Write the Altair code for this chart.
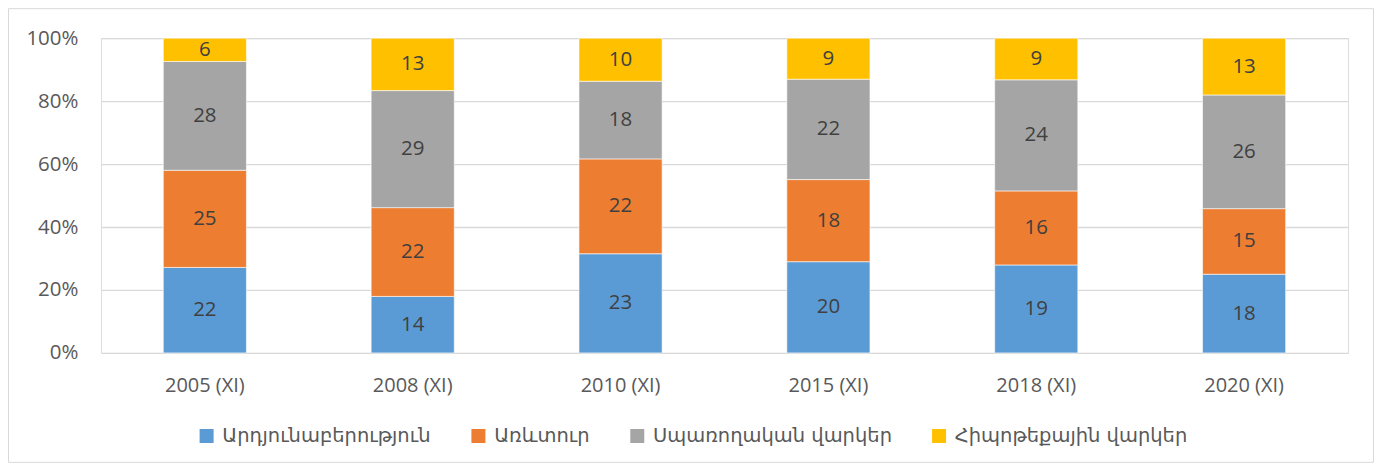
import altair as alt
import pandas as pd

years = ["2005 (XI)", "2008 (XI)", "2010 (XI)", "2015 (XI)", "2018 (XI)", "2020 (XI)"]
series = ["Արդյունաբերություն", "Առևտուր", "Սպառողական վարկեր", "Հիպոթեքային վարկեր"]
s_industry = [22, 14, 23, 20, 19, 18]
s_trade = [25, 22, 22, 18, 16, 15]
s_consumer = [28, 29, 18, 22, 24, 26]
s_mortgage = [6, 13, 10, 9, 9, 13]
colors = ["#5B9BD5", "#ED7D31", "#A5A5A5", "#FFC000"]

rows = []
for vals, name, idx in zip([s_industry, s_trade, s_consumer, s_mortgage], series, range(4)):
    for y, v in zip(years, vals):
        rows.append({"year": y, "series": name, "value": v, "idx": idx})
df = pd.DataFrame(rows)

W, H = 1248, 315
PL, PT, PR, PB = 93, 30, 26, 110

base = alt.Chart(df).transform_stack(
    stack="value", groupby=["year"], as_=["y0", "y1"],
    sort=[alt.SortField("idx", order="ascending")], offset="normalize"
).transform_calculate(ym="(datum.y0 + datum.y1) / 2")

xenc = alt.X("year:N", sort=years, title=None,
             scale=alt.Scale(paddingInner=0.6, paddingOuter=0.3),
             axis=alt.Axis(labelAngle=0, ticks=False, domain=False, labelPadding=23,
                           labelFontSize=20, labelColor="#595959", labelFont="Open Sans"))

bars = base.mark_bar(stroke="white", strokeWidth=0.6).encode(
    x=xenc,
    y=alt.Y("y0:Q", title=None, scale=alt.Scale(domain=[0, 1]),
            axis=alt.Axis(format=".0%", values=[0, 0.2, 0.4, 0.6, 0.8, 1.0], ticks=False,
                          domain=False, labelPadding=23, labelFontSize=20.5,
                          labelColor="#595959", labelFont="Open Sans",
                          gridColor="#D9D9D9", gridWidth=1.3)),
    y2="y1:Q",
    color=alt.Color("series:N", sort=series,
                    scale=alt.Scale(domain=series, range=colors),
                    legend=alt.Legend(title=None, orient="none", direction="horizontal",
                                      legendX=96, legendY=388,
                                      symbolType="square", symbolSize=196, symbolStrokeWidth=0,
                                      labelFontSize=19.5, labelColor="#595959",
                                      labelFont="DejaVu Sans", labelLimit=400,
                                      labelOffset=6, columnPadding=37, symbolOffset=0)),
)

text = base.mark_text(fontSize=20.5, color="#404040", font="Open Sans", baseline="middle").encode(
    x=alt.X("year:N", sort=years),
    y=alt.Y("ym:Q"),
    text="value:Q",
)

border = alt.Chart(pd.DataFrame({"a": [0]})).mark_rect(
    fill=None, stroke="#D9D9D9", strokeWidth=1
).encode(
    x=alt.value(-PL + 0.5), x2=alt.value(W + PR - 0.5),
    y=alt.value(-PT + 0.5), y2=alt.value(H + PB - 0.5),
)

chart = alt.layer(border, bars, text).properties(
    width=W, height=H,
    autosize=alt.AutoSizeParams(type="none"),
    padding={"left": PL, "top": PT, "right": PR, "bottom": PB},
).configure_view(stroke=None).configure(background="white")

chart.save("out.html", embed_options={"renderer": "svg", "actions": False})
